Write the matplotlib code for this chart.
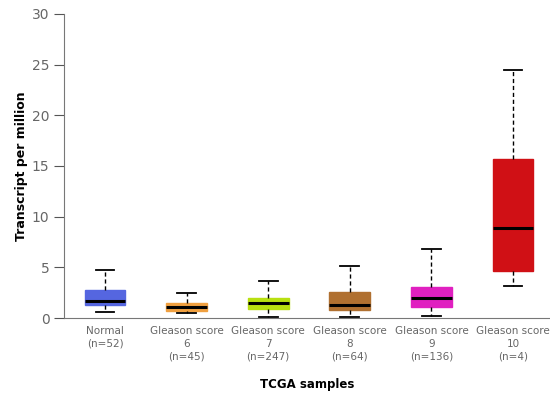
import matplotlib.pyplot as plt

# Expression summary per sample group (TPM)
groups = ['Normal\n(n=52)', 'Gleason score\n6\n(n=45)', 'Gleason score\n7\n(n=247)',
          'Gleason score\n8\n(n=64)', 'Gleason score\n9\n(n=136)', 'Gleason score\n10\n(n=4)']
whisker_low = [0.6, 0.46, 0.1, 0.1, 0.17, 3.2]
q1 = [1.28, 0.72, 0.86, 0.82, 1.09, 4.6]
median = [1.72, 1.12, 1.45, 1.28, 2.0, 8.88]
q3 = [2.74, 1.51, 2.0, 2.6, 3.03, 15.66]
whisker_high = [4.74, 2.5, 3.62, 5.16, 6.84, 24.5]
colors = ['#5566e0', '#f0a040', '#b8e010', '#b07030', '#e020c0', '#d01015']

stats = []
for i in range(len(groups)):
    stats.append({'whislo': whisker_low[i], 'q1': q1[i], 'med': median[i],
                  'q3': q3[i], 'whishi': whisker_high[i], 'fliers': []})

fig = plt.figure(figsize=(5.5, 3.98), dpi=100)
ax = fig.add_axes([0.1164, 0.201, 0.8836, 0.764])

bp = ax.bxp(stats, positions=range(1, len(groups) + 1), widths=0.5,
            patch_artist=True, showfliers=False,
            medianprops=dict(color='black', linewidth=2.2),
            whiskerprops=dict(color='black', linestyle=(0, (3, 2)), linewidth=1),
            capprops=dict(color='black', linewidth=1.3),
            capwidths=0.23)
for box, c in zip(bp['boxes'], colors):
    box.set_facecolor(c)
    box.set_edgecolor(c)

ax.set_xlim(0.497, 6.454)
ax.set_ylim(0, 30)
ax.set_yticks(range(0, 31, 5))
ax.set_xticks(range(1, len(groups) + 1))
ax.set_xticklabels(groups, fontsize=7.5, color='#666666', linespacing=1.3)
ax.tick_params(axis='x', length=0, pad=6)
ax.tick_params(axis='y', length=7, color='#555555', labelcolor='#666666', labelsize=10)

for s in ['top', 'right']:
    ax.spines[s].set_visible(False)
for s in ['left', 'bottom']:
    ax.spines[s].set_color('#777777')

ax.set_ylabel('Transcript per million', fontsize=9, fontweight='bold', labelpad=3)
ax.set_xlabel('TCGA samples', fontsize=8.5, fontweight='bold', labelpad=12)

fig.savefig('out.png', dpi=100)
